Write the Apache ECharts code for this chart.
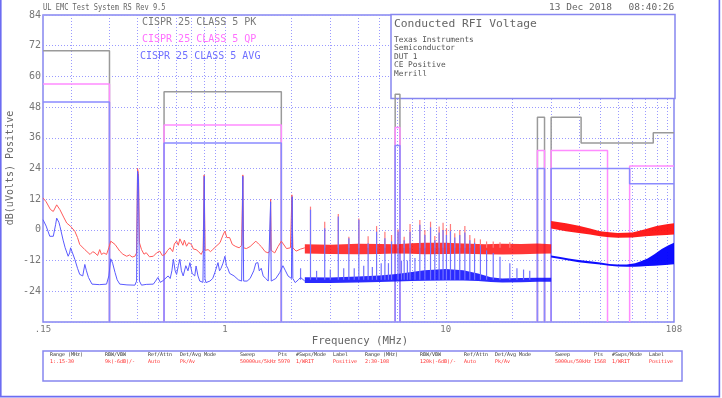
<!DOCTYPE html>
<html>
<head>
<meta charset="utf-8">
<title>Conducted RFI Voltage</title>
<script src="https://cdn.jsdelivr.net/npm/echarts@6/dist/echarts.min.js"></script>
<style>
  html, body { margin: 0; padding: 0; background: #fff; }
  #chart { width: 722px; height: 398px; }
</style>
</head>
<body>
<div id="chart"></div>
<script>
// frequency in MHz, level in dB(uV)
const xTickFreqs = [0.15, 1, 10, 108]
const xTickLabels = ['.15', '1', '10', '108']
const gridFreqs = [0.2, 0.3, 0.4, 0.5, 0.6, 0.7, 0.8, 0.9, 1, 2, 3, 4, 5, 6, 7, 8, 9, 10, 20, 30, 40, 50, 60, 70, 80, 90, 100]
const yMin = -36, yMax = 84, yStep = 12

// CISPR 25 class 5 limit outlines, as drawn
const pkLimit = [
  [[0.15, 70], [0.3, 70], [0.3, -36]],
  [[0.53, -36], [0.53, 54], [1.8, 54], [1.8, -36]],
  [[5.9, -36], [5.9, 53], [6.2, 53], [6.2, -36]],
  [[26, -36], [26, 44], [28, 44], [28, -36]],
  [[30, -36], [30, 44], [41, 44], [41, 34], [87, 34], [87, 38], [108, 38]]
]
const qpLimit = [
  [[0.15, 57], [0.3, 57], [0.3, -36]],
  [[0.53, -36], [0.53, 41], [1.8, 41], [1.8, -36]],
  [[5.9, -36], [5.9, 40], [6.2, 40], [6.2, -36]],
  [[26, -36], [26, 31], [28, 31], [28, -36]],
  [[30, -36], [30, 31], [54, 31], [54, -36]],
  [[68, -36], [68, 25], [108, 25]]
]
const avLimit = [
  [[0.15, 50], [0.3, 50], [0.3, -36]],
  [[0.53, -36], [0.53, 34], [1.8, 34], [1.8, -36]],
  [[5.9, -36], [5.9, 33], [6.2, 33], [6.2, -36]],
  [[26, -36], [26, 24], [28, 24], [28, -36]],
  [[30, -36], [30, 24], [68, 24], [68, 18], [108, 18]]
]

// peak trace, 0.15 - 2.3 MHz
const pkTrace = [
  [0.15, 12.5], [0.155, 11], [0.162, 8], [0.167, 7.2], [0.173, 9.8], [0.179, 7.9], [0.186, 5], [0.192, 2.7],
  [0.2, 1.4], [0.209, -0.5], [0.215, -3], [0.22, -5.7], [0.232, -7.7], [0.245, -9.6], [0.252, -8.5], [0.258, -9],
  [0.265, -10], [0.271, -7.7], [0.276, -9.6], [0.283, -9], [0.291, -9.6], [0.298, -7], [0.304, -4.4], [0.318, -5.7],
  [0.334, -8.3], [0.345, -9.5], [0.359, -10.3], [0.37, -9.8], [0.38, -10.6], [0.391, -10.3], [0.398, -9],
  [0.402, 24], [0.406, 22], [0.41, -5], [0.419, -7.7], [0.43, -9.5], [0.44, -8.9], [0.455, -10.5], [0.474, -10.3],
  [0.49, -9], [0.507, -8.3], [0.52, -10], [0.535, -9.6], [0.55, -8], [0.564, -7], [0.58, -8.5], [0.59, -5.5],
  [0.604, -4.4], [0.615, -6], [0.625, -3.5], [0.635, -3.1], [0.645, -6], [0.655, -4], [0.67, -6.4], [0.685, -5],
  [0.705, -5.7], [0.72, -7.5], [0.74, -7.7], [0.76, -8.5], [0.78, -9.6], [0.797, -8], [0.805, 21.5], [0.813, -8],
  [0.839, -7.7], [0.86, -8.5], [0.88, -7.7], [0.91, -6.5], [0.95, -5], [0.98, -2], [1.0, -0.5], [1.02, -3],
  [1.05, -3], [1.08, -5.7], [1.12, -6.5], [1.16, -7], [1.19, -6], [1.205, 21.5], [1.215, -7], [1.25, -7.3],
  [1.3, -6.5], [1.38, -4.4], [1.42, -5.5], [1.46, -6.5], [1.52, -8.5], [1.57, -9], [1.6, -8], [1.61, 12],
  [1.62, -8], [1.68, -9], [1.74, -6.5], [1.8, -4.4], [1.9, -7.3], [1.98, -7], [2.01, 13.7], [2.03, -7],
  [2.1, -8.3], [2.2, -7.5], [2.3, -7]
]
// average trace, 0.15 - 2.3 MHz
const avTrace = [
  [0.15, 4], [0.155, 1.5], [0.161, -2.5], [0.167, -2.5], [0.171, 2], [0.173, 4.6], [0.177, 3], [0.179, 1.4],
  [0.185, -4], [0.189, -7], [0.195, -10.3], [0.198, -9], [0.2, -7], [0.204, -9], [0.209, -11.5], [0.215, -15],
  [0.22, -17.4], [0.227, -18], [0.232, -13.5], [0.236, -16], [0.241, -18.6], [0.25, -21.2], [0.27, -21.4],
  [0.291, -21.2], [0.298, -18], [0.304, -11.3], [0.31, -13], [0.318, -16.7], [0.325, -19.5], [0.334, -21.2],
  [0.36, -21.5], [0.391, -21.6], [0.398, -20], [0.402, 23], [0.406, 20], [0.41, -20], [0.419, -21.6],
  [0.44, -21.3], [0.474, -21.2], [0.485, -20], [0.497, -18.6], [0.51, -20.5], [0.525, -19.8], [0.535, -20.5],
  [0.553, -18], [0.565, -19], [0.575, -16], [0.584, -11.5], [0.595, -16], [0.604, -17.4], [0.615, -14],
  [0.625, -11.5], [0.635, -16], [0.647, -18], [0.665, -14], [0.68, -16], [0.694, -12.8], [0.71, -17],
  [0.73, -18], [0.74, -14.1], [0.755, -18], [0.769, -20], [0.795, -20.5], [0.8, -20], [0.806, 21], [0.812, -19],
  [0.82, -20.6], [0.855, -20], [0.88, -19], [0.9, -16.7], [0.93, -12.8], [0.945, -16], [0.96, -15], [0.98, -13],
  [1.0, -10.3], [1.015, -14], [1.03, -15], [1.05, -17], [1.1, -18], [1.15, -19.5], [1.19, -20], [1.205, 21],
  [1.215, -20], [1.26, -20], [1.3, -19], [1.35, -16], [1.38, -13], [1.41, -12.8], [1.43, -16], [1.46, -15],
  [1.49, -18], [1.53, -19], [1.57, -20], [1.6, -20], [1.61, 11], [1.62, -20], [1.65, -20.6], [1.7, -19],
  [1.77, -16.7], [1.83, -14], [1.88, -16], [1.93, -18], [2.0, -19], [2.015, 13], [2.03, -19], [2.08, -20.6],
  [2.15, -19.5], [2.2, -18.6], [2.3, -20]
]

// noisy parts of the traces: [freq, low, high]
const pkBand = [
  [2.3, -9.2, -5.6], [3, -9.4, -5.8], [4, -9.5, -5.4], [5, -9.4, -5.5], [6, -9.2, -5.6], [7, -9.3, -5.2],
  [8, -9.5, -5], [10, -9.4, -5], [12, -9.3, -5.3], [15, -9.5, -5.6], [18, -9.6, -5.4], [22, -9.5, -5.5],
  [26, -9.3, -5.3], [30, -9.2, -5.6]
]
const pkBandHigh = [
  [30, 0.5, 3.5], [35, -0.5, 2.6], [40, -1.2, 1.6], [45, -1.8, 0.5], [50, -2.5, -0.5], [55, -2.9, -0.9],
  [60, -3.1, -1.2], [70, -3, -1], [80, -2.5, 0.3], [90, -2.2, 1.5], [100, -2, 2.2], [108, -1.8, 2.6]
]
const avBand = [
  [2.3, -20.8, -18.5], [3, -20.8, -18.6], [4, -20.6, -18.2], [5, -20.4, -17.8], [6, -20.2, -17.2],
  [7, -20, -16.5], [8, -19.9, -15.8], [10, -19.8, -15.3], [12, -19.8, -15.8], [14, -20, -17], [16, -20.4, -18.5],
  [18, -20.6, -19], [22, -20.5, -18.8], [26, -20.3, -18.7], [30, -20.3, -18.7]
]
const avBandHigh = [
  [30, -10.8, -10], [33, -11.4, -10.6], [36, -12, -11.2], [40, -12.6, -11.8], [45, -13.1, -12.3],
  [50, -13.5, -12.7], [55, -14, -13.3], [60, -14.3, -13.5], [66, -14.4, -13.5], [72, -14.4, -13],
  [76, -14.3, -12.4], [82, -14.1, -11.2], [88, -14, -9.5], [95, -13.8, -7.5], [102, -13.6, -6], [108, -13.4, -5]
]

// harmonic spikes above the bands: [freq, top]
const pkSpikeBase = -7
const pkSpikes = [
  [2.44, 9.1], [2.83, 3.2], [3.26, 6.2], [3.64, -2.7], [4.04, 4.5], [4.45, -2.5], [4.86, 1.5], [5.3, -0.7],
  [5.68, -2], [6.08, 0.2], [6.48, -2.7], [6.89, 2.3], [7.63, 3.9], [8.04, 0], [8.53, 3.2], [8.92, -2.4],
  [9.33, 1.3], [9.72, 2.8], [10.07, 0.6], [10.5, 2.3], [10.98, -1.3], [11.57, 0], [12.2, 1.5], [12.85, -2],
  [13.5, -3.3], [14.35, -3.7], [15.3, -4.5], [16.4, -4.5], [17.6, -4.8], [19.5, -4.8]
]
const avSpikeBase = -19.5
const avSpikes = [
  [2.2, -15], [2.44, 7.9], [2.6, -16], [2.83, 0.6], [3.0, -15.5], [3.26, 5.2], [3.45, -15], [3.64, -3.3],
  [3.85, -15], [4.04, 4.0], [4.25, -14], [4.45, -5.2], [4.65, -14.5], [4.86, -0.7], [5.1, -13], [5.3, -3.3],
  [5.5, -13], [5.68, -4.5], [6.08, -0.7], [6.3, -12], [6.48, -4], [6.7, -12], [6.89, -0.7], [7.25, -11],
  [7.63, 2], [8.04, -2], [8.53, 1], [8.92, -4], [9.33, -1], [9.72, 0], [10.07, -2], [10.5, -0.5], [10.98, -3],
  [11.57, -2], [12.2, -1], [12.85, -4], [13.5, -5], [14.35, -6], [15.3, -8], [16.4, -9], [17.6, -10.5],
  [19.5, -13], [21, -15], [22.5, -15.5], [24, -16]
]

// setup table below the plot
const tableHeads = ['Range (MHz)', 'RBW/VBW', 'Ref/Attn', 'Det/Avg Mode', 'Sweep', 'Pts', '#Swps/Mode', 'Label']
const tableRow1 = ['1:.15-30', '9k(-6dB)/-', 'Auto', 'Pk/Av', '50000us/5kHz', '5970', '1/WRIT', 'Positive']
const tableRow2 = ['2:30-108', '120k(-6dB)/-', 'Auto', 'Pk/Av', '5000us/50kHz', '1568', '1/WRIT', 'Positive']
const infoLines = ['Texas Instruments', 'Semiconductor', 'DUT 1', 'CE Positive', 'Merrill']

const FONT = '"DejaVu Sans Mono", "Liberation Mono", monospace'
const lg = v => Math.log10(v)
const toXY = arr => arr.map(p => [lg(p[0]), p[1]])

const chart = echarts.init(document.getElementById('chart'))

const limitLines = (polys, color, z) => polys.map(poly => ({
  type: 'line',
  data: toXY(poly),
  symbol: 'none',
  silent: true,
  lineStyle: { color: color, width: 1.5 },
  z: z
}))

const bandSeries = (band, color, z) => ({
  type: 'custom',
  silent: true,
  z: z,
  data: [[lg(band[0][0]), band[0][1]]],
  encode: { x: 0, y: 1 },
  renderItem: (params, api) => {
    const top = band.map(p => api.coord([lg(p[0]), p[2]]))
    const bottom = band.slice().reverse().map(p => api.coord([lg(p[0]), p[1]]))
    return { type: 'polygon', shape: { points: top.concat(bottom) }, style: { fill: color } }
  }
})

const spikeSeries = (spikes, base, color, z) => ({
  type: 'custom',
  silent: true,
  z: z,
  data: toXY(spikes),
  encode: { x: 0, y: 1 },
  renderItem: (params, api) => {
    const p1 = api.coord([api.value(0), base])
    const p2 = api.coord([api.value(0), api.value(1)])
    return { type: 'line', shape: { x1: p1[0], y1: p1[1], x2: p2[0], y2: p2[1] }, style: { stroke: color, lineWidth: 1.2 } }
  }
})

const gridSeries = {
  type: 'custom',
  silent: true,
  z: 0,
  data: gridFreqs.map(f => [lg(f), 0]),
  encode: { x: 0, y: 1 },
  renderItem: (params, api) => {
    const p1 = api.coord([api.value(0), yMin])
    const p2 = api.coord([api.value(0), yMax])
    const x = Math.round(p1[0]) + 0.5
    return { type: 'line', shape: { x1: x, y1: p1[1], x2: x, y2: p2[1] }, style: { stroke: '#9a9aff', lineWidth: 1, lineDash: [1, 2] } }
  }
}

const text = (x, y, str, size, color, extra) => Object.assign({
  type: 'text', x: x, y: y, z: 10, silent: true,
  style: { text: str, fill: color, font: size + 'px ' + FONT, textAlign: 'left', textVerticalAlign: 'middle' }
}, extra || {})

const tableX1 = [50, 105, 148, 180, 240, 278, 296, 333]
const tableX2 = [365, 420, 464, 495, 555, 594, 612, 649]
const tableTexts = []
tableHeads.forEach((h, i) => {
  tableTexts.push(text(tableX1[i], 355, h, 5, '#333'))
  tableTexts.push(text(tableX2[i], 355, h, 5, '#333'))
})
tableRow1.forEach((v, i) => tableTexts.push(text(tableX1[i], 361.5, v, 5, '#ff3030')))
tableRow2.forEach((v, i) => tableTexts.push(text(tableX2[i], 361.5, v, 5, '#ff3030')))

const xTitle = text(360, 341, 'Frequency (MHz)', 10.7, '#666')
xTitle.style.textAlign = 'center'
const yTitle = text(10, 168, 'dB(uVolts) Positive', 10, '#666', { rotation: Math.PI / 2 })
yTitle.style.textAlign = 'center'

const option = {
  animation: false,
  textStyle: { fontFamily: FONT },
  grid: { left: 43, top: 15, width: 631, height: 307, show: true, borderColor: '#8686f0', borderWidth: 1.5 },
  xAxis: {
    type: 'value',
    min: lg(0.15),
    max: lg(108),
    axisLine: { show: false },
    axisTick: { show: false },
    splitLine: { show: false },
    axisLabel: {
      customValues: xTickFreqs.map(lg),
      color: '#777',
      fontSize: 9,
      margin: 3,
      formatter: v => {
        const i = xTickFreqs.findIndex(f => Math.abs(lg(f) - v) < 1e-6)
        return i >= 0 ? xTickLabels[i] : ''
      }
    }
  },
  yAxis: {
    type: 'value',
    min: yMin,
    max: yMax,
    interval: yStep,
    axisLine: { show: false },
    axisTick: { show: false },
    splitLine: { show: true, lineStyle: { color: '#9a9aff', width: 1, type: [1, 2] } },
    axisLabel: { color: '#777', fontSize: 10, margin: 2, formatter: v => (v === yMin ? '' : String(v)) }
  },
  series: [
    gridSeries,
    ...limitLines(pkLimit, '#9a9a9a', 3),
    ...limitLines(qpLimit, '#ff8cff', 3),
    ...limitLines(avLimit, '#8a8aff', 3),
    bandSeries(pkBand, 'rgba(255,10,10,0.82)', 4),
    bandSeries(pkBandHigh, 'rgba(255,10,10,0.92)', 4),
    spikeSeries(pkSpikes, pkSpikeBase, '#ff7a7a', 4),
    { type: 'line', data: toXY(pkTrace), symbol: 'none', silent: true, z: 4, lineStyle: { color: '#ff5a5a', width: 1 } },
    bandSeries(avBand, 'rgba(20,20,255,0.9)', 5),
    bandSeries(avBandHigh, 'rgba(0,0,255,0.95)', 5),
    spikeSeries(avSpikes, avSpikeBase, '#7272ff', 5),
    { type: 'line', data: toXY(avTrace), symbol: 'none', silent: true, z: 5, lineStyle: { color: '#5a5aff', width: 1 } }
  ],
  graphic: {
    elements: [
      { type: 'polyline', z: 10, silent: true, shape: { points: [[0.8, 0], [0.8, 396.6], [719.4, 396.6], [719.4, 0]] },
        style: { stroke: '#6c6cf2', lineWidth: 1.6, fill: null } },
      text(43, 7.5, 'UL EMC Test System RS Rev 9.5', 9, '#666', { scaleX: 0.78 }),
      text(549, 7.5, '13 Dec 2018', 9.5, '#666'),
      text(628.5, 7.5, '08:40:26', 9.5, '#666'),
      text(142, 22.5, 'CISPR 25 CLASS 5 PK', 10, '#7a7a7a'),
      text(142, 39, 'CISPR 25 CLASS 5 QP', 10, '#ff70ff'),
      text(140, 56, 'CISPR 25 CLASS 5 AVG', 10, '#7070ff'),
      { type: 'rect', z: 1, silent: true, shape: { x: 391, y: 14.5, width: 284, height: 84 },
        style: { fill: '#fff', stroke: '#8686f0', lineWidth: 1.5 } },
      text(394, 24, 'Conducted RFI Voltage', 11.3, '#666'),
      ...infoLines.map((s, i) => text(394, 39.5 + i * 8.55, s, 7.8, '#555')),
      xTitle,
      yTitle,
      { type: 'rect', z: 10, silent: true, shape: { x: 43, y: 351, width: 639, height: 30 },
        style: { fill: null, stroke: '#8686f0', lineWidth: 1.5 } },
      ...tableTexts
    ]
  }
}

chart.setOption(option)
window.addEventListener('resize', () => chart.resize())
</script>
</body>
</html>
